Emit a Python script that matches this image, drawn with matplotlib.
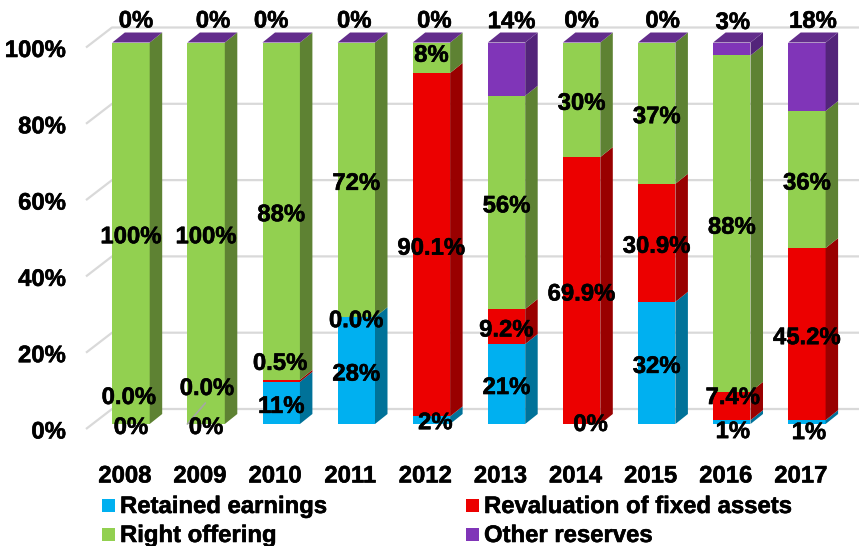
import matplotlib
matplotlib.use("Agg")
import numpy as np
import matplotlib.pyplot as plt
import matplotlib.patheffects as pe
from matplotlib.patches import Rectangle

years = ["2008", "2009", "2010", "2011", "2012", "2013", "2014", "2015", "2016", "2017"]
retained = [0, 0, 11, 28, 2, 21, 0, 32, 1, 1]
revaluation = [0.0, 0.0, 0.5, 0.0, 90.1, 9.2, 69.9, 30.9, 7.4, 45.2]
right_offering = [100, 100, 88, 72, 8, 56, 30, 37, 88, 36]
other = [0, 0, 0, 0, 0, 14, 0, 0, 3.4, 18]
names = ["Retained earnings", "Revaluation of fixed assets", "Right offering", "Other reserves"]
y_ticks = [0, 20, 40, 60, 80, 100]

plt.rcParams["font.family"] = ["Liberation Sans", "DejaVu Sans"]
plt.rcParams["font.weight"] = "bold"
plt.rcParams["font.size"] = 17.2

# one data unit in pixels
X_UNIT = 75.1
Y_UNIT = 3.815
WIDTH, HEIGHT = 859, 546

front_colors = ["#00B0F0", "#EC0000", "#92D050", "#8035B8"]
side_colors = ["#007299", "#990000", "#5E8233", "#53247A"]
top_color = "#632D8C"
grid_color = "#D9D9D9"

# label nudges per (series, year index) in pixels: right, down
nudges = {
    (0, 6): (9, -3), (0, 4): (4, -1), (0, 8): (1, 6), (0, 9): (2, 7),
    (1, 0): (-2, -30), (1, 1): (1, -39), (1, 2): (-1, -21), (1, 8): (1, -12),
    (2, 4): (0, -6),
    (3, 0): (5, -25), (3, 1): (7, -25), (3, 2): (-10, -25), (3, 3): (-2, -25),
    (3, 4): (3, -25), (3, 5): (5, -51), (3, 6): (0, -25), (3, 7): (6, -25),
    (3, 8): (1, -30), (3, 9): (6, -59),
}

fig = plt.figure(figsize=(WIDTH / 100, HEIGHT / 100), dpi=100)
ax = fig.add_axes([0, 0, 1, 1])
ax.set_xlim(-131 / X_UNIT, (WIDTH - 131) / X_UNIT)
ax.set_ylim((424 - HEIGHT) / Y_UNIT, 424 / Y_UNIT)
ax.axis("off")

bar_half = 18.7 / X_UNIT
depth_x = 12.5 / X_UNIT
depth_y = 10 / Y_UNIT

# walls and gridlines
wall_left = -45 / X_UNIT
wall_back = -19 / X_UNIT
for tick in y_ticks:
    low = tick - 5 / Y_UNIT
    high = tick + 15 / Y_UNIT
    ax.plot([wall_left, wall_back, ax.get_xlim()[1]], [low, high, high],
            color=grid_color, lw=1.6, zorder=1, solid_capstyle="butt")
    ax.annotate(f"{tick}%", (wall_left, low), xytext=(-20, -3), textcoords="offset pixels",
                ha="right", va="center", zorder=5)

series = np.array([retained, revaluation, right_offering, other], dtype=float)
shares = series / series.sum(axis=0) * 100
bottoms = np.vstack([np.zeros(len(years)), np.cumsum(shares, axis=0)[:-1]])

for i, year in enumerate(years):
    left, right = i - bar_half, i + bar_half
    for s in range(len(names)):
        y0 = bottoms[s, i]
        y1 = y0 + shares[s, i]
        if y1 > y0:
            ax.fill([left, right, right, left], [y0, y0, y1, y1],
                    color=front_colors[s], lw=0, zorder=3)
            ax.fill([right, right + depth_x, right + depth_x, right],
                    [y0, y0 + depth_y, y1 + depth_y, y1],
                    color=side_colors[s], lw=0, zorder=3)
    ax.fill([left, right, right + depth_x, left + depth_x],
            [100, 100, 100 + depth_y, 100 + depth_y], color=top_color, lw=0, zorder=3)
    ax.annotate(year, (i, 0), xytext=(-6, -52), textcoords="offset pixels",
                ha="center", va="center", zorder=5)

# leader line of the moved 2009 label
ax.annotate("", (1 - bar_half, 0), xytext=(18, 21), textcoords="offset pixels",
            arrowprops=dict(arrowstyle="-", color="#A6A6A6", lw=1.2, shrinkA=0, shrinkB=0), zorder=4)

for s in range(len(names)):
    for i in range(len(years)):
        value = series[s, i]
        text = f"{value:.1f}%" if s == 1 else f"{value:.0f}%"
        dx, dy = nudges.get((s, i), (0, 0))
        ax.annotate(text, (i, bottoms[s, i] + shares[s, i] / 2), xytext=(dx, -dy - 3.5),
                    textcoords="offset pixels", ha="center", va="center", color="black", zorder=6)

# legend, two rows by two columns
legend_cols = [102, 466]
legend_rows = [505.5, 534.5]
for s, name in enumerate(names):
    px = legend_cols[s % 2]
    py = legend_rows[s // 2]
    x = (px - 131) / X_UNIT
    y = (424 - py) / Y_UNIT
    ax.add_patch(Rectangle((x, y - 6.5 / Y_UNIT), 13 / X_UNIT, 13 / Y_UNIT,
                           facecolor=front_colors[s], lw=0, zorder=5, clip_on=False))
    ax.annotate(name, (x + 18 / X_UNIT, y), xytext=(0, -1), textcoords="offset pixels",
                ha="left", va="center", zorder=5)

# the reference text looks a little heavier than the plain bold face
for label in ax.texts:
    label.set_path_effects([pe.withStroke(linewidth=0.4, foreground="black")])

fig.savefig("out.png", dpi=100, facecolor="white")
